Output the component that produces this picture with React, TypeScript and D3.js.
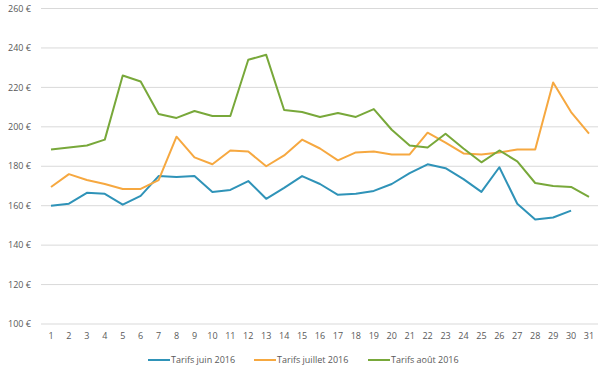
import React from "react";
import * as d3 from "d3";

const days = d3.range(1, 32);
const yTicks = [100, 120, 140, 160, 180, 200, 220, 240, 260];

const juin = [160, 161, 166.5, 166, 160.5, 165, 175, 174.5, 175, 167, 168, 172.5, 163.5, 169, 175, 171, 165.5, 166, 167.5, 171, 176.5, 181, 179, 173.5, 167, 179.5, 161, 153, 154, 157.5];
const juillet = [169.5, 176, 173, 171, 168.5, 168.5, 173, 195, 184.5, 181, 188, 187.5, 180, 185.5, 193.5, 189, 183, 187, 187.5, 186, 186, 197, 192, 186.5, 186, 187, 188.5, 188.5, 222.5, 207.5, 196.5];
const aout = [188.5, 189.5, 190.5, 193.5, 226, 223, 206.5, 204.5, 208, 205.5, 205.5, 234, 236.5, 208.5, 207.5, 205, 207, 205, 209, 198.5, 190.5, 189.5, 196.5, 189, 182, 188, 182.5, 171.5, 170, 169.5, 164.5];

const seriesNames = ["Tarifs juin 2016", "Tarifs juillet 2016", "Tarifs août 2016"];
const seriesColors = ["#2f93b8", "#f6a840", "#78a83a"];
const seriesData = [juin, juillet, aout];

export default function App() {
  const W = 605;
  const H = 373;
  const x = d3.scaleLinear().domain([1, 31]).range([51, 589]);
  const y = d3.scaleLinear().domain([100, 260]).range([324, 8.5]);
  const line = d3
    .line<number>()
    .x((d, i) => x(i + 1))
    .y((d) => y(d));

  const legendX = [148, 254, 368];
  const font = "'Open Sans', 'Liberation Sans', sans-serif";

  return (
    <svg
      width={W}
      height={H}
      style={{ position: "absolute", left: 0, top: 0, background: "#fff" }}
      fontFamily={font}
    >
      {yTicks.map((t) => (
        <g key={t}>
          <line x1={41} x2={598} y1={y(t)} y2={y(t)} stroke="#d9d9d9" strokeWidth={1} />
          <text x={31} y={y(t)} dy="0.35em" textAnchor="end" fontSize={9} fill="#595959">
            {t} €
          </text>
        </g>
      ))}
      {days.map((d) => (
        <text key={d} x={x(d)} y={339} textAnchor="middle" fontSize={9} fill="#595959">
          {d}
        </text>
      ))}
      {seriesData.map((s, i) => (
        <path
          key={i}
          d={line(s) || ""}
          fill="none"
          stroke={seriesColors[i]}
          strokeWidth={2}
          strokeLinejoin="round"
        />
      ))}
      {seriesNames.map((n, i) => (
        <g key={n}>
          <line x1={legendX[i]} x2={legendX[i] + 22} y1={360} y2={360} stroke={seriesColors[i]} strokeWidth={2} />
          <text x={legendX[i] + 23} y={360} dy="0.35em" fontSize={9} fill="#595959">
            {n}
          </text>
        </g>
      ))}
    </svg>
  );
}
